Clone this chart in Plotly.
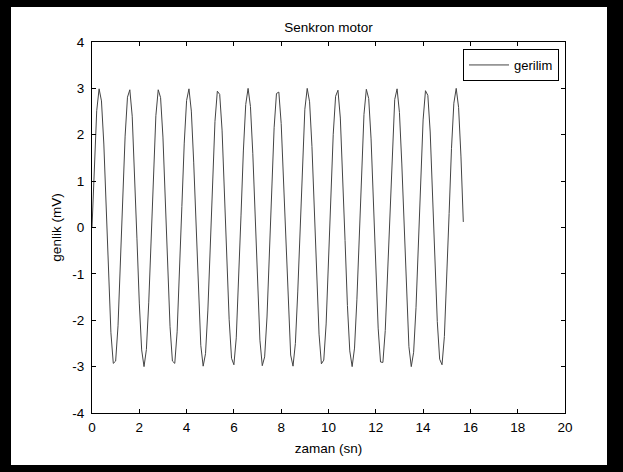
import plotly.graph_objects as go

# time samples (s)
zaman = [0.0, 0.1, 0.2, 0.3, 0.4, 0.5, 0.6, 0.7, 0.8, 0.9,
         1.0, 1.1, 1.2, 1.3, 1.4, 1.5, 1.6, 1.7, 1.8, 1.9,
         2.0, 2.1, 2.2, 2.3, 2.4, 2.5, 2.6, 2.7, 2.8, 2.9,
         3.0, 3.1, 3.2, 3.3, 3.4, 3.5, 3.6, 3.7, 3.8, 3.9,
         4.0, 4.1, 4.2, 4.3, 4.4, 4.5, 4.6, 4.7, 4.8, 4.9,
         5.0, 5.1, 5.2, 5.3, 5.4, 5.5, 5.6, 5.7, 5.8, 5.9,
         6.0, 6.1, 6.2, 6.3, 6.4, 6.5, 6.6, 6.7, 6.8, 6.9,
         7.0, 7.1, 7.2, 7.3, 7.4, 7.5, 7.6, 7.7, 7.8, 7.9,
         8.0, 8.1, 8.2, 8.3, 8.4, 8.5, 8.6, 8.7, 8.8, 8.9,
         9.0, 9.1, 9.2, 9.3, 9.4, 9.5, 9.6, 9.7, 9.8, 9.9,
         10.0, 10.1, 10.2, 10.3, 10.4, 10.5, 10.6, 10.7, 10.8, 10.9,
         11.0, 11.1, 11.2, 11.3, 11.4, 11.5, 11.6, 11.7, 11.8, 11.9,
         12.0, 12.1, 12.2, 12.3, 12.4, 12.5, 12.6, 12.7, 12.8, 12.9,
         13.0, 13.1, 13.2, 13.3, 13.4, 13.5, 13.6, 13.7, 13.8, 13.9,
         14.0, 14.1, 14.2, 14.3, 14.4, 14.5, 14.6, 14.7, 14.8, 14.9,
         15.0, 15.1, 15.2, 15.3, 15.4, 15.5, 15.6, 15.7]

# voltage (mV)
gerilim = [0.00, 1.44, 2.52, 2.99, 2.73, 1.80, 0.42, -1.05, -2.27, -2.93,
           -2.88, -2.12, -0.84, 0.65, 1.97, 2.81, 2.97, 2.40, 1.24, -0.23,
           -1.63, -2.64, -3.00, -2.63, -1.61, -0.20, 1.26, 2.41, 2.97, 2.80,
           1.95, 0.62, -0.86, -2.14, -2.88, -2.93, -2.25, -1.03, 0.45, 1.82,
           2.74, 2.99, 2.51, 1.41, -0.03, -1.46, -2.54, -2.99, -2.72, -1.78,
           -0.40, 1.08, 2.29, 2.94, 2.87, 2.10, 0.81, -0.67, -1.99, -2.82,
           -2.96, -2.38, -1.21, 0.25, 1.65, 2.65, 3.00, 2.61, 1.59, 0.17,
           -1.28, -2.43, -2.98, -2.79, -1.93, -0.59, 0.89, 2.15, 2.89, 2.92,
           2.24, 1.00, -0.48, -1.84, -2.75, -2.99, -2.50, -1.39, 0.05, 1.48,
           2.55, 3.00, 2.71, 1.75, 0.37, -1.10, -2.30, -2.94, -2.86, -2.08,
           -0.79, 0.70, 2.01, 2.83, 2.96, 2.36, 1.19, -0.28, -1.68, -2.66,
           -3.00, -2.60, -1.56, -0.15, 1.31, 2.44, 2.98, 2.78, 1.91, 0.57,
           -0.91, -2.17, -2.90, -2.91, -2.22, -0.98, 0.50, 1.86, 2.76, 2.99,
           2.48, 1.37, -0.08, -1.51, -2.57, -3.00, -2.69, -1.73, -0.34, 1.13,
           2.32, 2.95, 2.85, 2.06, 0.76, -0.72, -2.03, -2.84, -2.96, -2.35,
           -1.16, 0.30, 1.70, 2.68, 3.00, 2.59, 1.54, 0.12]

x_ticks = [0, 2, 4, 6, 8, 10, 12, 14, 16, 18, 20]
y_ticks = [-4, -3, -2, -1, 0, 1, 2, 3, 4]

W, H = 623, 472
L, R, T, B = 92, 58, 42, 59
pw, ph = W - L - R, H - T - B

def px(xpix):
    return (xpix - L) / pw

def py(ypix):
    return (H - B - ypix) / ph

FONT = "Liberation Sans, Arial, sans-serif"

fig = go.Figure()
fig.add_trace(go.Scatter(x=zaman, y=gerilim, mode="lines", name="gerilim",
                         line=dict(color="#444444", width=1)))

axis_common = dict(showline=True, linecolor="black", linewidth=1, mirror="ticks",
                   ticks="inside", ticklen=4, tickcolor="black", tickwidth=1,
                   showgrid=False, zeroline=False,
                   tickfont=dict(family=FONT, size=13.5, color="black"))

fig.update_xaxes(range=[0, 20], tickvals=x_ticks, ticktext=[str(v) for v in x_ticks],
                 title=dict(text="zaman (sn)", font=dict(family=FONT, size=13.5, color="black"),
                            standoff=9),
                 ticklabelstandoff=2, **axis_common)
fig.update_yaxes(range=[-4, 4], tickvals=y_ticks, ticktext=[str(v) for v in y_ticks],
                 title=dict(text="genlik (mV)", font=dict(family=FONT, size=13.5, color="black"),
                            standoff=7),
                 ticklabelstandoff=4, **axis_common)

shapes = [
    dict(type="rect", xref="paper", yref="paper", layer="below",
         x0=px(11), x1=px(607), y0=py(465), y1=py(7),
         fillcolor="white", line=dict(width=0)),
]

fig.update_layout(
    width=W, height=H,
    margin=dict(l=L, r=R, t=T, b=B, pad=0),
    paper_bgcolor="black", plot_bgcolor="white",
    title=dict(text="Senkron motor", x=0.5, xanchor="center",
               xref="paper", yref="container", y=1 - 27 / H, yanchor="middle",
               font=dict(family=FONT, size=13.5, color="black")),
    showlegend=True,
    legend=dict(x=px(559), xanchor="right", y=py(49), yanchor="top",
                bgcolor="white", bordercolor="black", borderwidth=1,
                font=dict(family=FONT, size=13, color="black"),
                itemwidth=40, tracegroupgap=0),
    shapes=shapes,
)

fig.write_html("out.html", config={"displayModeBar": False},
               post_script="document.body.style.margin='0px';document.body.style.overflow='hidden';")
